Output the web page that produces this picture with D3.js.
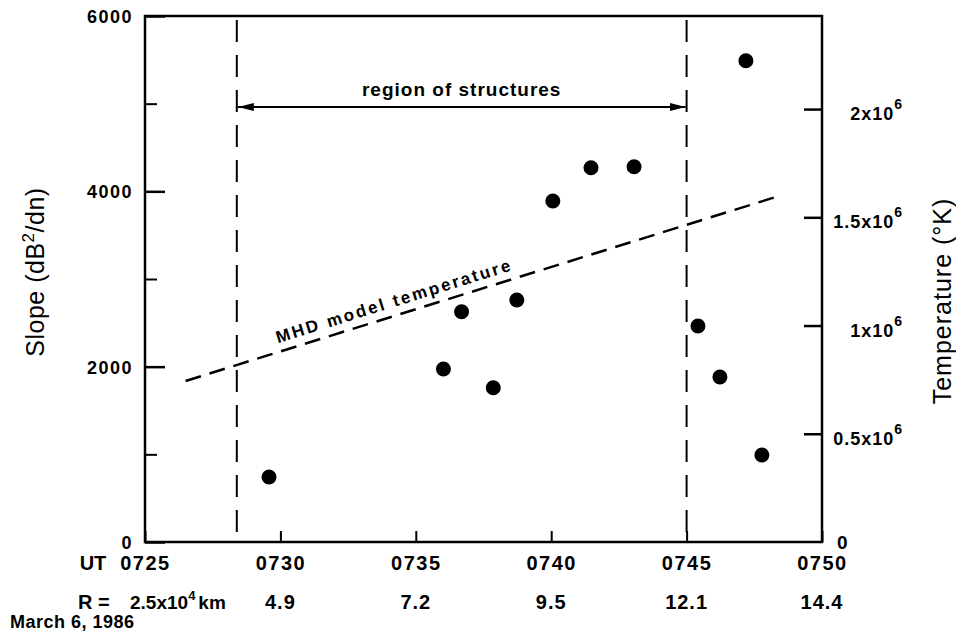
<!DOCTYPE html>
<html><head><meta charset="utf-8">
<script src="https://cdn.jsdelivr.net/npm/d3@7"></script>
<style>
body{margin:0;background:#fff;}
svg text{font-family:"Liberation Sans",Arial,Helvetica,sans-serif;fill:#000;}
</style></head><body>
<svg id="c" width="956" height="631"></svg>
<script>
// ---- data ----
const utTickLabels = ["0725","0730","0735","0740","0745","0750"];
const utTickMinutes = [0,5,10,15,20,25];          // minutes after 07:25
const rLabels = ["4.9","7.2","9.5","12.1","14.4"]; // R at 0730..0750 (x10^4 km)
const slopeTicks = [0,2000,4000,6000];
const slopeMinorTicks = [1000,3000,5000];
const tempTicks = [500000,1000000,1500000,2000000];
const tempTickLabels = ["0.5x10","1x10","1.5x10","2x10"];
const obsMinutes = [4.58,11.02,11.69,12.86,13.73,15.06,16.47,18.06,20.42,21.23,22.19,22.78];
const obsSlope   = [741,1973,2627,1760,2760,3890,4269,4281,2464,1882,5490,992];
const mhdMinutes = [1.5,23.3];
const mhdTemp    = [744000,1594000];
const regionMinutes = [3.39,20.0];

// ---- layout ----
const L=145,R=822,T=16,B=542;
const svg=d3.select("#c");
const x=d3.scaleLinear().domain([0,25]).range([L,R]);
const yL=d3.scaleLinear().domain([0,6000]).range([B,T]);
const yR=d3.scaleLinear().domain([0,2430000]).range([B,T]);

// frame
svg.append("rect").attr("x",L).attr("y",T).attr("width",R-L).attr("height",B-T)
  .attr("fill","none").attr("stroke","#000").attr("stroke-width",2.5);

// left axis
const gl=svg.append("g").attr("transform",`translate(${L},0)`)
  .call(d3.axisLeft(yL).tickValues(slopeTicks).tickSizeInner(-20).tickSizeOuter(0).tickPadding(12).tickFormat(d3.format("d")));
gl.select(".domain").remove();
gl.selectAll(".tick line").attr("stroke-width",2.5);
gl.selectAll(".tick text").attr("font-size",18).attr("font-weight","bold").attr("letter-spacing","1.5px").attr("dy","0.36em");
const glm=svg.append("g").attr("transform",`translate(${L},0)`)
  .call(d3.axisLeft(yL).tickValues(slopeMinorTicks).tickSizeInner(-12).tickSizeOuter(0).tickFormat(""));
glm.select(".domain").remove();
glm.selectAll(".tick line").attr("stroke-width",2);

// right axis
const gr=svg.append("g").attr("transform",`translate(${R},0)`)
  .call(d3.axisRight(yR).tickValues(tempTicks).tickSizeInner(-18).tickSizeOuter(0).tickFormat(""));
gr.select(".domain").remove();
gr.selectAll(".tick line").attr("stroke-width",2.5);
tempTicks.forEach((v,i)=>{
  const t=svg.append("text").attr("x",903).attr("y",yR(v)+11).attr("text-anchor","end")
    .attr("font-size",18).attr("font-weight","bold").attr("letter-spacing","1px");
  t.append("tspan").text(tempTickLabels[i]);
  t.append("tspan").attr("dy",-11).attr("font-size",14).text("6");
});
svg.append("text").attr("x",837).attr("y",yR(0)+7).attr("font-size",19).attr("font-weight","bold").text("0");

// bottom axis
const gb=svg.append("g").attr("transform",`translate(0,${B})`)
  .call(d3.axisBottom(x).tickValues(utTickMinutes).tickSizeInner(-11).tickSizeOuter(0).tickPadding(14).tickFormat((d,i)=>utTickLabels[i]));
gb.select(".domain").remove();
gb.selectAll(".tick line").attr("stroke-width",2);
gb.selectAll(".tick text").attr("font-size",20).attr("font-weight","bold").attr("letter-spacing","1.5px");
svg.append("text").attr("x",93).attr("y",570).attr("text-anchor","middle").attr("font-size",20).attr("font-weight","bold").text("UT");

// R row
svg.append("text").attr("x",78).attr("y",609).attr("font-size",20).attr("font-weight","bold").text("R =");
const r0=svg.append("text").attr("x",130).attr("y",609).attr("font-size",19).attr("font-weight","bold");
r0.append("tspan").text("2.5x10");
r0.append("tspan").attr("dy",-9).attr("font-size",13).text("4");
r0.append("tspan").attr("dy",9).attr("dx",3).text("km");
rLabels.forEach((s,i)=>{
  svg.append("text").attr("x",x(utTickMinutes[i+1])).attr("y",609).attr("text-anchor","middle")
    .attr("font-size",20).attr("font-weight","bold").attr("letter-spacing","1px").text(s);
});
svg.append("text").attr("x",10).attr("y",628).attr("font-size",18).attr("font-weight","bold").attr("letter-spacing","0.5px").text("March 6, 1986");

// region dashed verticals
regionMinutes.forEach(m=>{
  svg.append("line").attr("x1",x(m)).attr("x2",x(m)).attr("y1",20).attr("y2",B)
    .attr("stroke","#000").attr("stroke-width",2).attr("stroke-dasharray","22,13");
});
// arrow
const ay=107;
svg.append("defs").html(`<marker id="ah" viewBox="0 0 16 8" refX="16" refY="4" markerWidth="16" markerHeight="8" markerUnits="userSpaceOnUse" orient="auto-start-reverse"><path d="M0,0 L16,4 L0,8 Z" fill="#000"/></marker>`);
svg.append("line").attr("x1",x(regionMinutes[0])+1).attr("x2",x(regionMinutes[1])-1).attr("y1",ay).attr("y2",ay)
  .attr("stroke","#000").attr("stroke-width",1.8).attr("marker-start","url(#ah)").attr("marker-end","url(#ah)");
svg.append("text").attr("x",(x(regionMinutes[0])+x(regionMinutes[1]))/2).attr("y",96).attr("text-anchor","middle")
  .attr("font-size",19).attr("font-weight","bold").attr("letter-spacing","1px").text("region of structures");

// MHD line
const mx1=x(mhdMinutes[0]),my1=yR(mhdTemp[0]),mx2=x(mhdMinutes[1]),my2=yR(mhdTemp[1]);
svg.append("line").attr("x1",mx1).attr("y1",my1).attr("x2",mx2).attr("y2",my2)
  .attr("stroke","#000").attr("stroke-width",2.5).attr("stroke-dasharray","16,9");
const ang=Math.atan2(my2-my1,mx2-mx1)*180/Math.PI;
const tx=278, ty=my1+(tx-mx1)*(my2-my1)/(mx2-mx1)-9;
svg.append("text").attr("transform",`translate(${tx},${ty}) rotate(${ang})`)
  .attr("font-size",17).attr("font-weight","bold").attr("letter-spacing","2.4px").text("MHD model temperature");

// points
svg.append("g").selectAll("circle").data(obsMinutes).join("circle")
  .attr("cx",d=>x(d)).attr("cy",(d,i)=>yL(obsSlope[i])).attr("r",7.5).attr("fill","#000");

// axis titles
const st=svg.append("text").attr("transform","translate(44,272) rotate(-90)").attr("text-anchor","middle").attr("font-size",25).attr("letter-spacing","0.5px");
st.append("tspan").text("Slope (dB");
st.append("tspan").attr("dy",-10).attr("font-size",17).text("2");
st.append("tspan").attr("dy",10).text("/dn)");
svg.append("text").attr("transform","translate(951,301) rotate(-90)").attr("text-anchor","middle").attr("font-size",25).attr("letter-spacing","1px").text("Temperature (°K)");
</script></body></html>
